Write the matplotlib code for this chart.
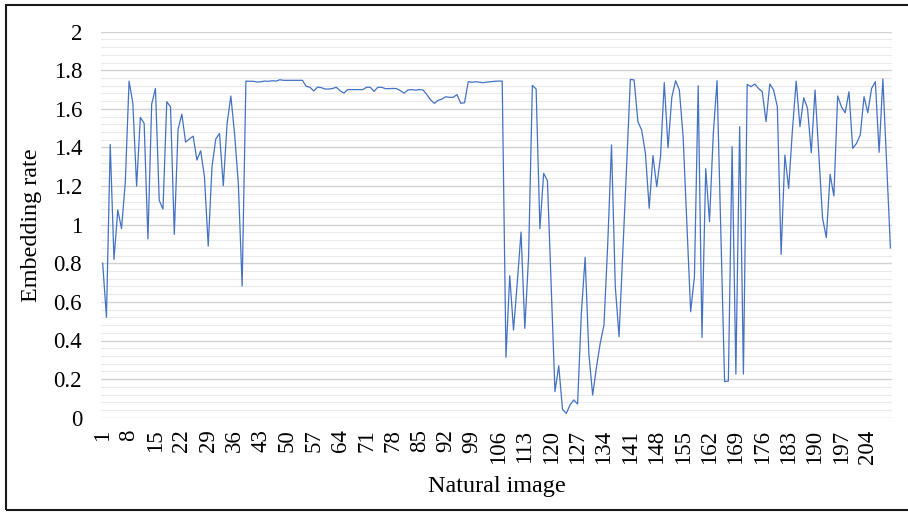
import matplotlib
matplotlib.use("Agg")
import matplotlib.pyplot as plt
from matplotlib.patches import Rectangle
from matplotlib.ticker import MultipleLocator, FuncFormatter

plt.rcParams['font.family'] = ['Liberation Serif', 'DejaVu Serif']

# embedding rate per natural image
rates_1_38 = [0.80, 0.52, 1.416, 0.82, 1.076, 0.98, 1.22, 1.744, 1.63, 1.20,
              1.556, 1.525, 0.926, 1.625, 1.706, 1.126, 1.081, 1.637, 1.611, 0.95,
              1.494, 1.573, 1.428, 1.444, 1.459, 1.335, 1.383, 1.249, 0.889, 1.30,
              1.444, 1.473, 1.202, 1.522, 1.667, 1.47, 1.21, 0.682]
rates_39_107 = [1.744, 1.743, 1.743, 1.739, 1.741, 1.744, 1.743, 1.746, 1.744, 1.751,
                1.748, 1.748, 1.748, 1.748, 1.748, 1.748, 1.717, 1.712, 1.693, 1.713,
                1.710, 1.703, 1.703, 1.706, 1.712, 1.694, 1.682, 1.700, 1.700, 1.700,
                1.700, 1.700, 1.712, 1.712, 1.691, 1.712, 1.712, 1.705, 1.705, 1.706,
                1.705, 1.694, 1.682, 1.698, 1.700, 1.697, 1.700, 1.698, 1.674, 1.647,
                1.629, 1.644, 1.651, 1.663, 1.660, 1.660, 1.674, 1.629, 1.632, 1.741,
                1.738, 1.741, 1.738, 1.736, 1.739, 1.741, 1.743, 1.744, 1.744]
rates_108_210 = [0.313, 0.736, 0.454, 0.70, 0.962, 0.463, 0.834, 1.722, 1.703, 0.979,
                 1.266, 1.228, 0.68, 0.135, 0.269, 0.043, 0.022, 0.066, 0.092, 0.071,
                 0.54, 0.831, 0.33, 0.117, 0.26, 0.385, 0.48, 0.90, 1.413, 0.68,
                 0.42, 0.86, 1.30, 1.753, 1.75, 1.534, 1.49, 1.37, 1.085, 1.358,
                 1.197, 1.352, 1.736, 1.399, 1.66, 1.746, 1.698, 1.456, 1.00, 0.549,
                 0.73, 1.72, 0.416, 1.29, 1.016, 1.47, 1.746, 0.96, 0.187, 0.19,
                 1.404, 0.226, 1.508, 0.226, 1.727, 1.715, 1.729, 1.706, 1.689, 1.534,
                 1.729, 1.698, 1.611, 0.846, 1.361, 1.188, 1.49, 1.744, 1.508, 1.658,
                 1.603, 1.373, 1.698, 1.37, 1.033, 0.933, 1.261, 1.149, 1.667, 1.611,
                 1.58, 1.689, 1.396, 1.421, 1.465, 1.663, 1.58, 1.706, 1.741, 1.375,
                 1.755, 1.32, 0.88]

rates = rates_1_38 + rates_39_107 + rates_108_210
images = list(range(1, len(rates) + 1))
xtick_pos = list(range(1, len(rates) + 1, 7))

fig = plt.figure(figsize=(9.08, 5.12), dpi=100)
ax = fig.add_axes([100.8 / 908, 1 - 417.7 / 512, 791.5 / 908, 386.0 / 512])

ax.plot(images, rates, color='#4472C4', lw=0.9, zorder=3)

ax.set_xlim(0.5, len(rates) + 0.5)
ax.set_ylim(0, 2)
ax.yaxis.set_major_locator(MultipleLocator(0.2))
ax.yaxis.set_minor_locator(MultipleLocator(0.04))
ax.yaxis.set_major_formatter(FuncFormatter(lambda v, p: '%g' % round(v, 2)))
ax.set_xticks(xtick_pos)
ax.set_xticklabels([str(t) for t in xtick_pos], rotation=90)

ax.grid(axis='y', which='major', color='#D2D2D2', lw=1.0, zorder=1)
ax.grid(axis='y', which='minor', color='#EAEAEA', lw=0.8, zorder=1)
ax.set_axisbelow(True)
for s in ax.spines.values():
    s.set_visible(False)
ax.tick_params(axis='both', which='both', length=0)
ax.tick_params(axis='y', labelsize=16.5, pad=13.5)
ax.tick_params(axis='x', labelsize=16.5, pad=8.5)

fig.text(32 / 908, 1 - 224.7 / 512, 'Embedding rate', rotation=90,
         ha='center', va='center', fontsize=17.4)
fig.text(496.5 / 908, 20.3 / 512, 'Natural image', ha='center',
         va='baseline', fontsize=17.4)

fig.add_artist(Rectangle((6 / 908, 2 / 512), 1.0, 505 / 512,
                         transform=fig.transFigure, fill=False,
                         edgecolor='#1a1a1a', lw=1.5, clip_on=False))

fig.savefig('out.png', dpi=100)
